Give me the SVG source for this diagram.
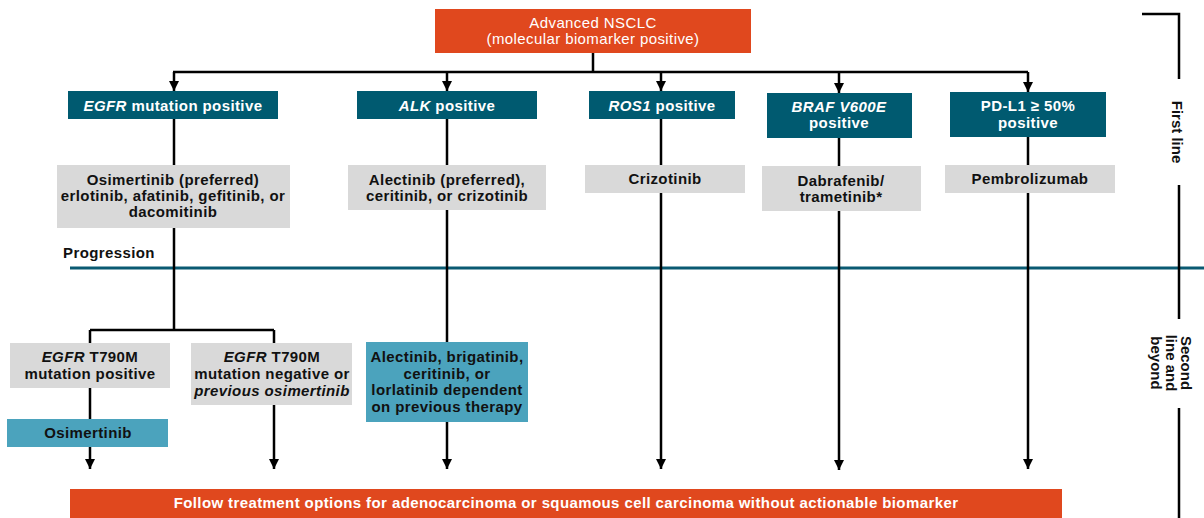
<svg xmlns="http://www.w3.org/2000/svg" width="1204" height="518" viewBox="0 0 1204 518">
<style>
text{font-family:"Liberation Sans",Arial,sans-serif;font-size:15px;letter-spacing:0.4px;text-anchor:middle}
.w{fill:#fff}
.b{font-weight:bold}
.k{fill:#111}
.i{font-style:italic}
.org{fill:#E0481E}
.teal{fill:#005A70}
.gray{fill:#D9D9D9}
.blue{fill:#4BA3BD}
.ln{fill:none;stroke:#000;stroke-width:2.5}
</style>
<defs>
<marker id="ah" markerUnits="userSpaceOnUse" markerWidth="10" markerHeight="12" refX="10" refY="5" orient="auto" viewBox="0 0 10 10">
<path d="M0,0 L10,5 L0,10 z" fill="#000"/>
</marker>
</defs>
<rect x="0" y="0" width="1204" height="518" fill="#fff"/>

<line x1="70" y1="268" x2="1204" y2="268" stroke="#0A5A72" stroke-width="3"/>
<text x="63" y="258" class="b k" style="text-anchor:start">Progression</text>

<g id="connectors" class="ln">
<path d="M593 53 V72 M173 72 H1028"/>
<path d="M174 72 V91" marker-end="url(#ah)"/>
<path d="M447 72 V91" marker-end="url(#ah)"/>
<path d="M661 72 V91" marker-end="url(#ah)"/>
<path d="M839 72 V93" marker-end="url(#ah)"/>
<path d="M1028 72 V92" marker-end="url(#ah)"/>
<path d="M174 119 V165 M447 119 V165 M661 119 V165 M839 138 V166 M1028 137 V165"/>
<path d="M174 228 V330 M90 330 H274 M90 330 V343 M274 330 V343"/>
<path d="M90 388 V419 M447 210 V342"/>
<path d="M90 447 V469" marker-end="url(#ah)"/>
<path d="M274 405 V469" marker-end="url(#ah)"/>
<path d="M447 422 V469" marker-end="url(#ah)"/>
<path d="M661 193 V469" marker-end="url(#ah)"/>
<path d="M839 211 V470" marker-end="url(#ah)"/>
<path d="M1028 193 V469" marker-end="url(#ah)"/>
<path d="M1142 14 H1179 V79 M1179 185 V319 M1179 408 V518"/>
</g>

<g id="root">
<rect x="435" y="9" width="316" height="44" class="org"/>
<text x="593" y="28" class="w">Advanced NSCLC</text>
<text x="593" y="44" class="w">(molecular biomarker positive)</text>
</g>

<g id="h-egfr">
<rect x="68" y="91" width="210" height="28" class="teal"/>
<text x="173" y="111" class="w b"><tspan class="i">EGFR</tspan> mutation positive</text>
</g>
<g id="h-alk">
<rect x="357" y="91" width="180" height="28" class="teal"/>
<text x="447" y="111" class="w b"><tspan class="i">ALK</tspan> positive</text>
</g>
<g id="h-ros1">
<rect x="589" y="91" width="146" height="28" class="teal"/>
<text x="662" y="111" class="w b"><tspan class="i">ROS1</tspan> positive</text>
</g>
<g id="h-braf">
<rect x="767" y="93" width="145" height="45" class="teal"/>
<text x="839" y="112" class="w b i">BRAF V600E</text>
<text x="839" y="128" class="w b">positive</text>
</g>
<g id="h-pdl1">
<rect x="950" y="92" width="156" height="45" class="teal"/>
<text x="1028" y="111" class="w b">PD-L1 ≥ 50%</text>
<text x="1028" y="128" class="w b">positive</text>
</g>

<g id="t-egfr">
<rect x="57" y="165" width="233" height="63" class="gray"/>
<text x="173" y="185" class="b k">Osimertinib (preferred)</text>
<text x="173" y="201" class="b k">erlotinib, afatinib, gefitinib, or</text>
<text x="173" y="217" class="b k">dacomitinib</text>
</g>
<g id="t-alk">
<rect x="348" y="165" width="198" height="45" class="gray"/>
<text x="447" y="185" class="b k">Alectinib (preferred),</text>
<text x="447" y="201" class="b k">ceritinib, or crizotinib</text>
</g>
<g id="t-ros1">
<rect x="585" y="165" width="160" height="28" class="gray"/>
<text x="665" y="184" class="b k">Crizotinib</text>
</g>
<g id="t-braf">
<rect x="762" y="166" width="159" height="45" class="gray"/>
<text x="841" y="186" class="b k">Dabrafenib/</text>
<text x="841" y="202" class="b k">trametinib*</text>
</g>
<g id="t-pdl1">
<rect x="945" y="165" width="170" height="28" class="gray"/>
<text x="1030" y="184" class="b k">Pembrolizumab</text>
</g>

<g id="s-t790pos">
<rect x="10" y="343" width="160" height="45" class="gray"/>
<text x="90" y="362" class="b k"><tspan class="i">EGFR</tspan> T790M</text>
<text x="90" y="379" class="b k">mutation positive</text>
</g>
<g id="s-osim">
<rect x="7" y="419" width="161" height="28" class="blue"/>
<text x="88" y="438" class="b k">Osimertinib</text>
</g>
<g id="s-t790neg">
<rect x="191" y="343" width="161" height="62" class="gray"/>
<text x="272" y="362" class="b k"><tspan class="i">EGFR</tspan> T790M</text>
<text x="272" y="379" class="b k">mutation negative or</text>
<text x="272" y="396" class="b k i">previous osimertinib</text>
</g>
<g id="s-alk">
<rect x="366" y="342" width="162" height="80" class="blue"/>
<text x="447" y="362" class="b k">Alectinib, brigatinib,</text>
<text x="447" y="379" class="b k">ceritinib, or</text>
<text x="447" y="395" class="b k">lorlatinib dependent</text>
<text x="447" y="412" class="b k">on previous therapy</text>
</g>

<g id="bottom">
<rect x="70" y="489" width="992" height="29" class="org"/>
<text x="566" y="508" class="w b">Follow treatment options for adenocarcinoma or squamous cell carcinoma without actionable biomarker</text>
</g>

<g id="labels">
<text transform="translate(1172 132) rotate(90)" class="b k" style="letter-spacing:0">First line</text>
<text transform="translate(1181 363) rotate(90)" class="b k" style="letter-spacing:0"><tspan x="0" y="0">Second</tspan><tspan x="0" dy="15">line and</tspan><tspan x="0" dy="15">beyond</tspan></text>
</g>
</svg>
